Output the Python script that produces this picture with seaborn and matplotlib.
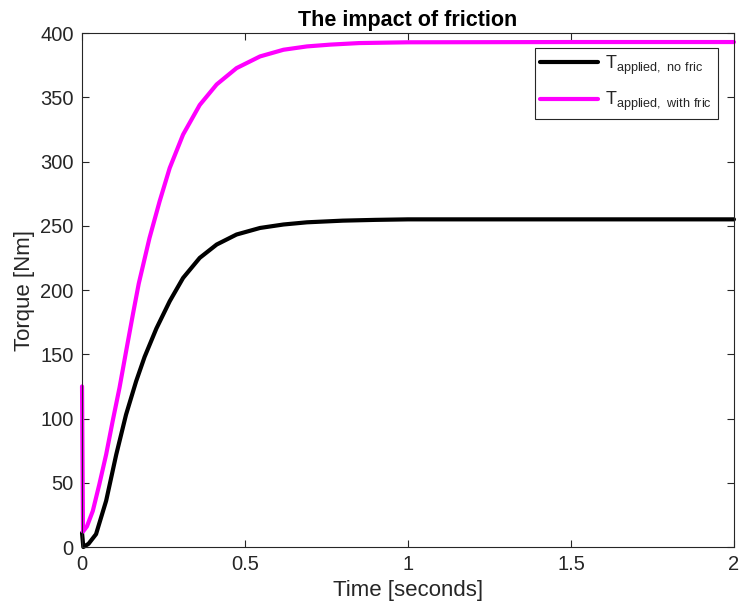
import matplotlib
matplotlib.use("Agg")
import matplotlib.pyplot as plt
import seaborn as sns
import pandas as pd

# Applied torque without friction
time_nofric = [0, 0.004, 0.02, 0.043, 0.074, 0.105, 0.135, 0.166, 0.192, 0.228,
               0.269, 0.31, 0.361, 0.413, 0.474, 0.546, 0.618, 0.69, 0.80, 0.9,
               1.0, 1.5, 2.0]
torque_nofric = [11, 0, 2.5, 10, 36, 72, 103, 129, 148, 170,
                 191.3, 209.4, 225, 235.4, 243.2, 248.3, 251, 252.7, 254, 254.6,
                 255, 255, 255]

# Applied torque with friction
time_fric = [0, 0.003, 0.015, 0.033, 0.053, 0.074, 0.094, 0.115, 0.135, 0.156,
             0.174, 0.207, 0.238, 0.269, 0.31, 0.361, 0.413, 0.474, 0.546, 0.618,
             0.69, 0.762, 0.85, 1.0, 1.5, 2.0]
torque_fric = [125, 12, 16, 28, 48.7, 72, 98, 124, 152, 181,
               205, 240.5, 269, 295, 321, 344, 360, 372.7, 381.8, 387,
               389.6, 391, 392.2, 392.8, 393, 393]

label_nofric = r"$\mathregular{T_{applied,\ no\ fric}}$"
label_fric = r"$\mathregular{T_{applied,\ with\ fric}}$"

x_ticks = [0, 0.5, 1, 1.5, 2]
x_tick_labels = ["0", "0.5", "1", "1.5", "2"]
y_ticks = [0, 50, 100, 150, 200, 250, 300, 350, 400]

sns.set_style("ticks")
plt.rcParams["font.family"] = ["Liberation Sans", "DejaVu Sans"]
plt.rcParams["mathtext.fontset"] = "custom"
plt.rcParams["mathtext.rm"] = "Liberation Sans"

dark = "#262626"

fig = plt.figure(figsize=(7.39, 6.12), dpi=100)
ax = fig.add_axes([0.111, 0.1062, 0.8822, 0.8398])

df_nofric = pd.DataFrame({"t": time_nofric, "T": torque_nofric})
df_fric = pd.DataFrame({"t": time_fric, "T": torque_fric})

line_kw = dict(linewidth=3, solid_joinstyle="round", solid_capstyle="round",
               estimator=None, sort=False, clip_on=False)
sns.lineplot(data=df_nofric, x="t", y="T", color="black",
             label=label_nofric, ax=ax, **line_kw)
sns.lineplot(data=df_fric, x="t", y="T", color="#ff00ff",
             label=label_fric, ax=ax, **line_kw)

ax.set_xlim(0, 2)
ax.set_ylim(0, 400)
ax.set_xticks(x_ticks)
ax.set_xticklabels(x_tick_labels)
ax.set_yticks(y_ticks)

ax.tick_params(direction="in", length=5, width=0.8, colors=dark,
               labelsize=14.5, top=True, right=True, pad=6)
for s in ax.spines.values():
    s.set_visible(True)
    s.set_color(dark)
    s.set_linewidth(0.8)

ax.set_xlabel("Time [seconds]", fontsize=16, color=dark, labelpad=4)
ax.set_ylabel("Torque [Nm]", fontsize=16, color=dark)
ax.set_title("The impact of friction", fontsize=15.5, fontweight="bold",
             color="black", pad=5)

leg = ax.legend(loc="upper right", bbox_to_anchor=(0.975, 0.971),
                fancybox=False, framealpha=1, edgecolor=dark,
                fontsize=13, handlelength=3.2, borderaxespad=0,
                labelspacing=0.75, handletextpad=0.4, borderpad=0.3)
leg.get_frame().set_linewidth(0.8)

fig.savefig("out.png", dpi=100)
